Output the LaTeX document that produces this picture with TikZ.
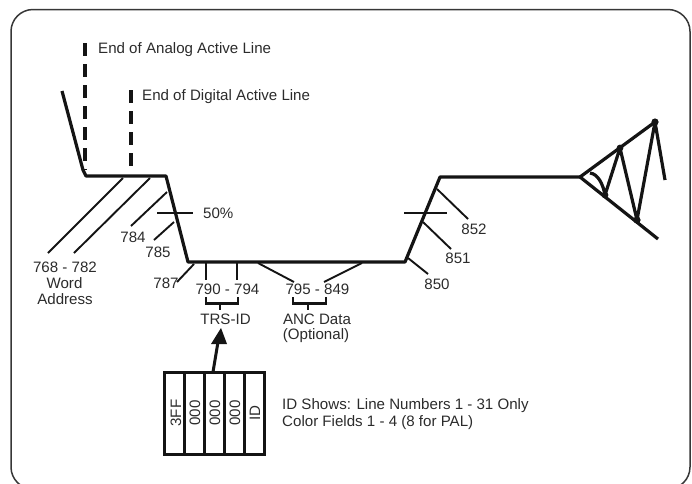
\documentclass[tikz,border=0pt]{standalone}
\usepackage{fontspec}
\setmainfont{Liberation Sans}
\definecolor{ink}{HTML}{141414}
\definecolor{txt}{HTML}{2B2B2B}
\tikzset{
  frame/.style={draw=ink!85, line width=1.5pt, rounded corners=22pt},
  trace/.style={draw=ink, line width=3.2pt, line join=round},
  thin trace/.style={draw=ink, line width=2.6pt},
  leader/.style={draw=ink, line width=1.9pt},
  endline/.style={draw=ink, line width=3.2pt, dash pattern=on 13pt off 8pt},
  clab/.style={anchor=base, yshift=-5.4pt, inner sep=0pt, text=txt, font=\fontsize{15.1pt}{16pt}\selectfont},
  wlab/.style={anchor=base west, yshift=-5.4pt, inner sep=0pt, text=txt, font=\fontsize{15.1pt}{16pt}\selectfont},
  cell/.style={draw=ink, line width=3pt, minimum width=20pt, minimum height=82pt, inner sep=0pt, outer sep=0pt},
  celltext/.style={rotate=90, text=txt, inner sep=0pt, font=\fontsize{15.1pt}{16pt}\selectfont}
}
\begin{document}
\begin{tikzpicture}[x=1pt,y=-1pt]
\useasboundingbox (0,0) rectangle (692,483);
\draw[frame] (11,489) rectangle (690,9.5);

% waveform points
\coordinate (a0) at (62,91);
\coordinate (a1) at (83,170);
\coordinate (a2) at (86,176);
\coordinate (a3) at (166,176);
\coordinate (a4) at (188,262);
\coordinate (a5) at (405,262);
\coordinate (a6) at (440,177);
\coordinate (a7) at (580,177);
\draw[trace] (a0) -- (a1) -- (a2) -- (a3) -- (a4) -- (a5) -- (a6) -- (a7);

% envelope and ringing
\coordinate (e1) at (655,122);
\coordinate (e2) at (658,239);
\coordinate (z0) at (590,173);
\coordinate (z1) at (605,195);
\coordinate (z2) at (620,148);
\coordinate (z3) at (637,220);
\coordinate (z4) at (655,122);
\coordinate (z5) at (665,180);
\draw[trace] (e1) -- (a7) -- (e2);
\draw[trace] (z0) .. controls (598,174) and (603,184) .. (z1) -- (z2) -- (z3) -- (z4) -- (z5);
\fill[ink] (z1) circle (3.4pt) (z2) circle (3.4pt) (z3) circle (3.6pt) (z4) circle (3.6pt);

% active line ends
\coordinate (d1a) at (85,43);
\coordinate (d1b) at (85,170);
\coordinate (d2a) at (131,90);
\coordinate (d2b) at (131,167);
\draw[endline] (d1a) -- (d1b);
\draw[endline] (d2a) -- (d2b);
\node[wlab] (tAnalog) at (98,48) {End of Analog Active Line};
\node[wlab] (tDigital) at (142,95) {End of Digital Active Line};

% leaders, left
\coordinate (l1a) at (123,178); \coordinate (l1b) at (48,253);
\coordinate (l2a) at (150,178); \coordinate (l2b) at (74,253);
\coordinate (l3a) at (167,192); \coordinate (l3b) at (131,226);
\coordinate (l4a) at (174,222); \coordinate (l4b) at (154,240);
\coordinate (l5a) at (194,264); \coordinate (l5b) at (177,282);
\draw[leader] (l1a) -- (l1b);
\draw[leader] (l2a) -- (l2b);
\draw[leader] (l3a) -- (l3b);
\draw[leader] (l4a) -- (l4b);
\draw[leader] (l5a) -- (l5b);
\coordinate (t1a) at (157,213); \coordinate (t1b) at (193,213);
\draw[thin trace] (t1a) -- (t1b);
\node[wlab] (t50) at (203,213) {50\%};
\node[clab] (t768) at (65,267) {768 - 782};
\node[clab] (tWord) at (64.5,283) {Word};
\node[clab] (tAddr) at (65,299) {Address};
\node[clab] (t784) at (133,237) {784};
\node[clab] (t785) at (158,252) {785};
\node[clab] (t787) at (166,283) {787};

% TRS-ID
\coordinate (p1a) at (206,262); \coordinate (p1b) at (206,280);
\coordinate (p2a) at (237,262); \coordinate (p2b) at (237,280);
\draw[thin trace] (p1a) -- (p1b);
\draw[thin trace] (p2a) -- (p2b);
\node[clab] (t790) at (227.5,289) {790 - 794};
\coordinate (b1a) at (206,297); \coordinate (b1b) at (206,303.5);
\coordinate (b1c) at (238,303.5); \coordinate (b1d) at (238,297);
\coordinate (b1e) at (220,303.5); \coordinate (b1f) at (220,310);
\draw[thin trace] (b1a) -- (b1b) -- (b1c) -- (b1d);
\draw[thin trace] (b1e) -- (b1f);
\node[clab] (tTRS) at (225.5,319) {TRS-ID};

% ANC
\coordinate (q1a) at (258,263); \coordinate (q1b) at (294,282);
\coordinate (q2a) at (362,263); \coordinate (q2b) at (324,282);
\draw[leader] (q1a) -- (q1b);
\draw[leader] (q2a) -- (q2b);
\node[clab] (t795) at (317.5,289) {795 - 849};
\coordinate (b2a) at (293,297); \coordinate (b2b) at (293,303.5);
\coordinate (b2c) at (326,303.5); \coordinate (b2d) at (326,297);
\coordinate (b2e) at (308,303.5); \coordinate (b2f) at (308,310);
\draw[thin trace] (b2a) -- (b2b) -- (b2c) -- (b2d);
\draw[thin trace] (b2e) -- (b2f);
\node[clab] (tANC) at (317,319) {ANC Data};
\node[clab] (tOpt) at (316,334) {(Optional)};

% leaders, right
\coordinate (r1a) at (408,258); \coordinate (r1b) at (428,274);
\coordinate (r2a) at (423,222); \coordinate (r2b) at (451,249);
\coordinate (r3a) at (437,189); \coordinate (r3b) at (468,219);
\draw[leader] (r1a) -- (r1b);
\draw[leader] (r2a) -- (r2b);
\draw[leader] (r3a) -- (r3b);
\coordinate (t2a) at (404,213); \coordinate (t2b) at (447,213);
\draw[thin trace] (t2a) -- (t2b);
\node[clab] (t850) at (437,284) {850};
\node[clab] (t851) at (458,258) {851};
\node[clab] (t852) at (474,229) {852};

% ID word
\node[cell] (c1) at (174,413) {};
\node[cell] (c2) at (194,413) {};
\node[cell] (c3) at (214,413) {};
\node[cell] (c4) at (234,413) {};
\node[cell] (c5) at (254,413) {};
\node[celltext] (s1) at (176,413) {3FF};
\node[celltext] (s2) at (195,413) {000};
\node[celltext] (s3) at (215,413) {000};
\node[celltext] (s4) at (235,413) {000};
\node[celltext] (s5) at (255,413) {ID};

% arrow to TRS-ID
\coordinate (h0) at (213,372);
\coordinate (h1) at (218,342);
\coordinate (hT) at (221,328);
\coordinate (hL) at (211,344);
\coordinate (hR) at (227,344);
\draw[draw=ink, line width=3pt] (h0) -- (h1);
\fill[ink] (hT) -- (hR) -- (hL) -- cycle;

\node[wlab] (tID1) at (282,404) {ID Shows: Line Numbers 1 - 31 Only};
\node[wlab] (tID2) at (282,421) {Color Fields 1 - 4 (8 for PAL)};
\end{tikzpicture}
\end{document}
